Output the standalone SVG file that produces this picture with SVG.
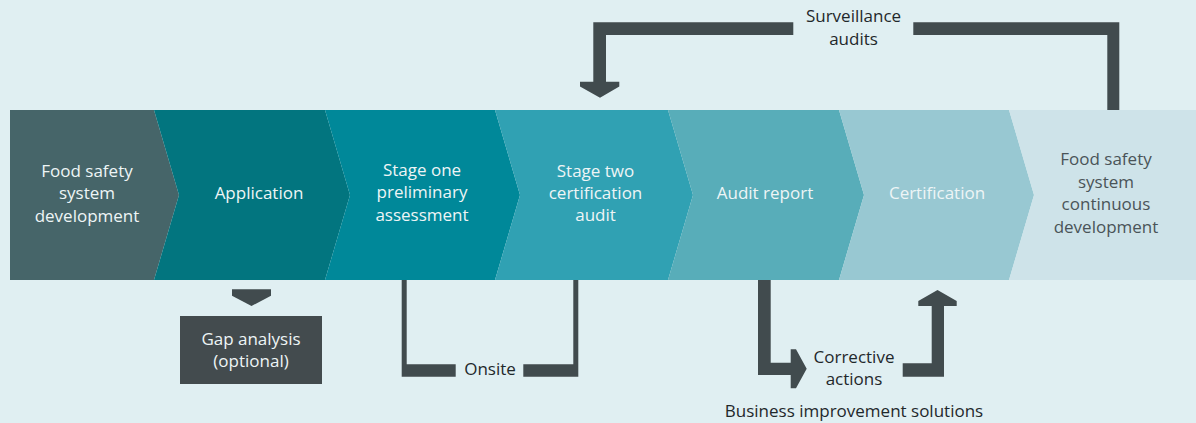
<svg xmlns="http://www.w3.org/2000/svg" width="1196" height="423" viewBox="0 0 1196 423">
<style>
text{font-family:"Open Sans","Noto Sans","Liberation Sans",sans-serif;font-size:17px;text-anchor:middle}
.w{fill:#eef5f6}
.g{fill:#4a5458}
.d{fill:#1f282b}
.bar{fill:#414b4e}
</style>
<rect x="0" y="0" width="1196" height="423" fill="#e0eff2"/>
<g id="n1">
<polygon points="10,110 154,110 179,195 154,280 10,280" fill="#466569"/>
<text class="w"><tspan x="87" y="177">Food safety</tspan><tspan x="87" y="199.3">system</tspan><tspan x="87" y="221.6">development</tspan></text>
</g>
<g id="n2">
<polygon points="154,110 325,110 350,195 325,280 154,280 179,195" fill="#02757f"/>
<text class="w" x="259" y="199.3">Application</text>
</g>
<g id="n3">
<polygon points="325,110 495,110 520,195 495,280 325,280 350,195" fill="#008899"/>
<text class="w"><tspan x="422" y="176">Stage one</tspan><tspan x="422" y="198.3">preliminary</tspan><tspan x="422" y="220.6">assessment</tspan></text>
</g>
<g id="n4">
<polygon points="495,110 668,110 693,195 668,280 495,280 520,195" fill="#30a1b3"/>
<text class="w"><tspan x="595.5" y="176.5">Stage two</tspan><tspan x="595.5" y="198.8">certification</tspan><tspan x="595.5" y="221.1">audit</tspan></text>
</g>
<g id="n5">
<polygon points="668,110 839,110 864,195 839,280 668,280 693,195" fill="#58adb9"/>
<text class="w" x="765" y="199.3">Audit report</text>
</g>
<g id="n6">
<polygon points="839,110 1009,110 1034,195 1009,280 839,280 864,195" fill="#98c8d2"/>
<text class="w" x="937" y="199.3">Certification</text>
</g>
<g id="n7">
<polygon points="1009,110 1196,110 1196,280 1009,280 1034,195" fill="#cee3e9"/>
<text class="g"><tspan x="1106" y="165">Food safety</tspan><tspan x="1106" y="187.5">system</tspan><tspan x="1106" y="210">continuous</tspan><tspan x="1106" y="232.5">development</tspan></text>
</g>
<g id="gap">
<rect x="180" y="316" width="142" height="68" fill="#434b4e"/>
<text class="w"><tspan x="251" y="345">Gap analysis</tspan><tspan x="251" y="367">(optional)</tspan></text>
</g>
<g id="connectors">
<polygon class="bar" points="232,289.3 271,289.3 271,295.7 251.5,306 232,295.7"/>
<polygon class="bar" points="793.3,22.3 593.3,22.3 593.3,81.7 580,81.7 580,86.5 600,97.7 619.3,86.5 619.3,81.7 606,81.7 606,35 793.3,35"/>
<polygon class="bar" points="913.3,22.3 1119.3,22.3 1119.3,110 1107.3,110 1107.3,35 913.3,35"/>
<polygon class="bar" points="401.7,280 406.7,280 406.7,364.3 455.7,364.3 455.7,376.7 401.7,376.7"/>
<polygon class="bar" points="578.3,280 573.3,280 573.3,364.3 523.3,364.3 523.3,376.7 578.3,376.7"/>
<polygon class="bar" points="758,280 770.7,280 770.7,362.7 790.7,362.7 790.7,349.3 796,349.3 806.7,368.8 796,388.3 790.7,388.3 790.7,375 758,375"/>
<polygon class="bar" points="902.7,363.3 931.7,363.3 931.7,306 918.3,306 918.3,301 937.5,290 956.7,301 956.7,306 944,306 944,376.7 902.7,376.7"/>
<text class="d"><tspan x="853.5" y="22.3">Surveillance</tspan><tspan x="853.5" y="44.5">audits</tspan></text>
<text class="d" x="490" y="375">Onsite</text>
<text class="d"><tspan x="854" y="362.7">Corrective</tspan><tspan x="854" y="385">actions</tspan></text>
<text class="d" x="854" y="416.7">Business improvement solutions</text>
</g>
</svg>
